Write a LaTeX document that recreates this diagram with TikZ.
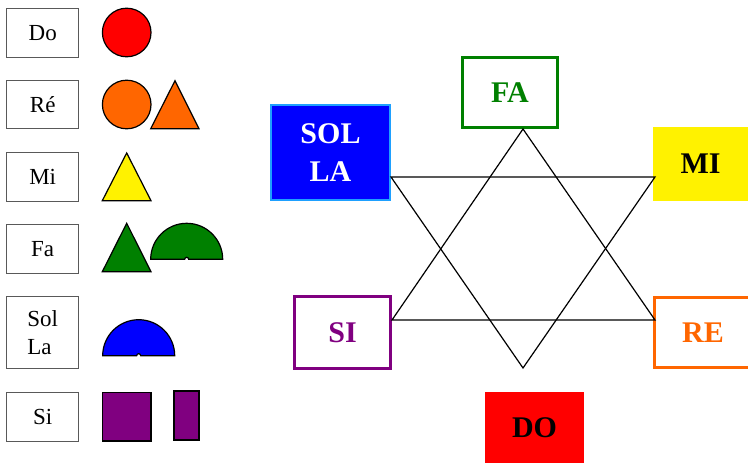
\documentclass[tikz,border=0pt]{standalone}
\usepackage{fontspec}
\setmainfont{Liberation Serif}
\usetikzlibrary{positioning,calc}
\definecolor{noteorange}{RGB}{255,102,0}
\definecolor{notegreen}{RGB}{0,128,0}
\definecolor{notepurple}{RGB}{128,0,128}
\definecolor{noteblue}{RGB}{0,0,255}
\definecolor{skyedge}{RGB}{30,160,255}
\tikzset{
    namebox/.style={draw=black!65, line width=0.8pt, minimum width=72pt, minimum height=48.5pt, inner sep=0pt, font=\fontsize{23}{28}\selectfont},
    notebox/.style={line width=3pt, inner sep=0pt, align=center, font=\bfseries\fontsize{30}{38}\selectfont},
    piece/.style={draw=black, line width=1.2pt}
}

\begin{document}
\begin{tikzpicture}[x=1pt, y=-1pt]
    \useasboundingbox (0, 0) rectangle (748, 463);

    % Note names
    \node [namebox] (do) at (42.7, 32.7) {Do};
    \node [namebox] (re) at (42.7, 104.5) {Ré};
    \node [namebox] (mi) at (42.7, 177) {Mi};
    \node [namebox] (fa) at (42.7, 248.8) {Fa};
    \node [namebox, minimum height=72pt, align=left] (solla) at (42.7, 332.8) {Sol\\La};
    \node [namebox] (si) at (42.7, 417) {Si};

    % Shapes of each note
    \filldraw [piece, fill=red] (126.7, 32.5) circle (24.3);
    \filldraw [piece, fill=noteorange] (126.7, 104.5) circle (24.3);
    \filldraw [piece, fill=noteorange] (150.7, 128.7) -- (175, 80.7) -- (199, 128.7) -- cycle;
    \filldraw [piece, fill=yellow] (102.3, 200.7) -- (126.7, 153) -- (151, 200.7) -- cycle;
    \filldraw [piece, fill=notegreen] (102.3, 271.7) -- (126.7, 223.3) -- (151, 271.7) -- cycle;
    \filldraw [piece, fill=notegreen] (150.7, 259.3) arc [start angle=180, end angle=360, radius=36]
        -- (188.7, 259.3) arc [start angle=0, end angle=-180, radius=2] -- cycle;
    \filldraw [piece, fill=noteblue] (102.7, 355.7) arc [start angle=180, end angle=360, radius=36]
        -- (140.7, 355.7) arc [start angle=0, end angle=-180, radius=2] -- cycle;
    \filldraw [piece, fill=notepurple] (102.3, 392.3) rectangle (151, 441);
    \filldraw [piece, fill=notepurple] (174, 391) rectangle (199, 440);

    % Notes round the star
    \node [notebox, draw=notegreen, text=notegreen, minimum width=95pt, minimum height=70pt] (FA) at (510, 92.5) {FA};
    \node [notebox, line width=2pt, draw=skyedge, fill=noteblue, text=white, minimum width=119pt, minimum height=95pt] (SOLLA) at (330.5, 152.5) {SOL\\LA};
    \node [notebox, fill=yellow, minimum width=95pt, minimum height=74pt] (MI) at (700.5, 164) {MI};
    \node [notebox, draw=noteorange, text=noteorange, minimum width=97pt, minimum height=70pt] (RE) at (703, 332.5) {RE};
    \node [notebox, draw=notepurple, text=notepurple, minimum width=96pt, minimum height=72pt] (SI) at (342.5, 332.5) {SI};
    \node [notebox, fill=red, minimum width=99pt, minimum height=71pt] (DO) at (534.5, 427.5) {DO};

    % Star
    \coordinate (up top) at (523, 129);
    \coordinate (up left) at (392, 320);
    \coordinate (up right) at (655, 320);
    \coordinate (down left) at (391, 177);
    \coordinate (down right) at (655, 177);
    \coordinate (down bottom) at (523, 368);
    \draw [line width=1.2pt, line join=miter] (up top) -- (up right) -- (up left) -- cycle;
    \draw [line width=1.2pt, line join=miter] (down left) -- (down right) -- (down bottom) -- cycle;
\end{tikzpicture}
\end{document}
